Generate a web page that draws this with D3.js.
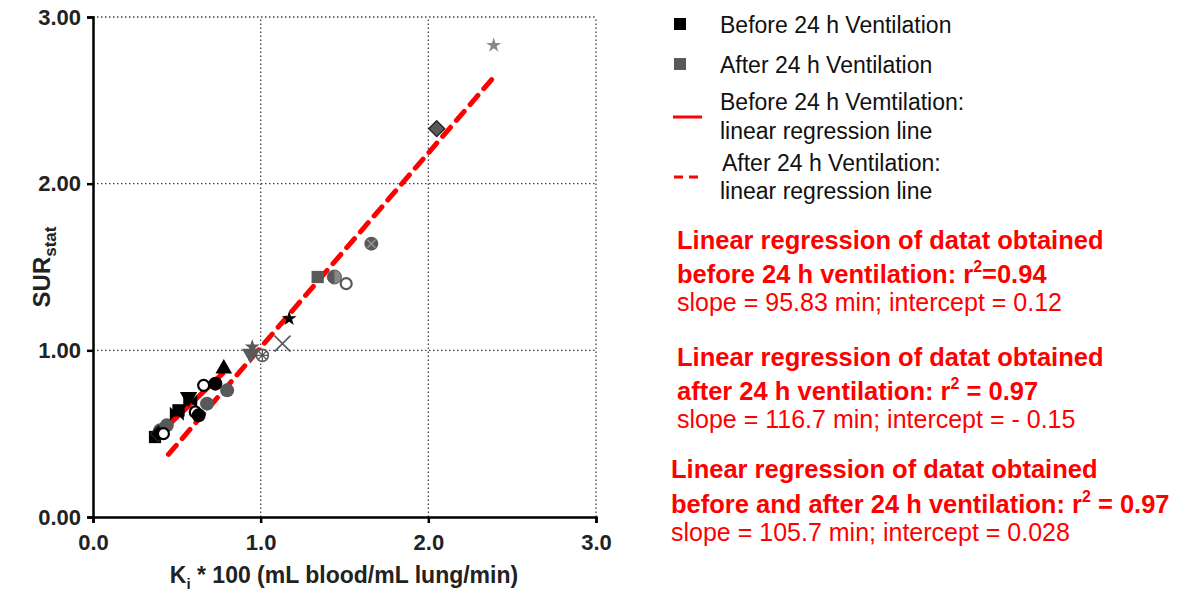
<!DOCTYPE html>
<html><head><meta charset="utf-8">
<script src="https://cdn.jsdelivr.net/npm/d3@7"></script>
<style>body{margin:0;background:#fff;} text{font-family:"Liberation Sans",Arial,sans-serif;}</style>
</head><body>
<svg id="c" width="1180" height="592"></svg>
<script>
// Data (Ki*100, SURstat), shape per subject
const beforeX = [0.37,0.39,0.42,0.50,0.51,0.57,0.58,0.61,0.63,0.66,0.73,0.78,1.17];
const beforeY = [0.48,0.50,0.50,0.62,0.64,0.72,0.69,0.63,0.61,0.79,0.80,0.89,1.19];
const beforeShape = ["square","diamond","openCircle","bowtie","square","triangleDown","bowtie","openCircle","circle","openCircle","circle","triangle","star"];
const afterX = [0.44,0.40,0.68,0.80,0.94,0.95,1.01,1.13,1.34,1.44,1.51,1.66,2.05,2.39];
const afterY = [0.55,0.52,0.68,0.76,0.98,1.02,0.97,1.04,1.44,1.44,1.40,1.64,2.33,2.83];
const afterShape = ["circle","circle","circle","circle","triangleDown","star","flower","x","square","halfCircle","openCircle","circleX","diamond","starLight"];
const xTicks = [0,1,2,3];
const yTicks = [0,1,2,3];
const fitBefore = {slope:0.9583, intercept:0.12, x0:0.37, x1:0.78};
const fitAfter = {slope:1.167, intercept:-0.15, x0:0.45, x1:2.38};
const legendItems = ["Before 24 h Ventilation","After 24 h Ventilation"];

const svg = d3.select("#c");
const x = d3.scaleLinear().domain([0,3]).range([93,596]);
const y = d3.scaleLinear().domain([0,3]).range([517,17]);

// grid
const g = svg.append("g");
g.selectAll(".gx").data(xTicks.slice(1)).join("line")
  .attr("x1",d=>x(d)).attr("x2",d=>x(d)).attr("y1",y(0)).attr("y2",y(3))
  .attr("stroke","#444").attr("stroke-width",1.3).attr("stroke-dasharray","1.5,2.5");
g.selectAll(".gy").data(yTicks.slice(1)).join("line")
  .attr("y1",d=>y(d)).attr("y2",d=>y(d)).attr("x1",x(0)).attr("x2",x(3))
  .attr("stroke","#444").attr("stroke-width",1.3).attr("stroke-dasharray","1.5,2.5");

// axes
const xa = svg.append("g").attr("transform",`translate(0,${y(0)})`)
  .call(d3.axisBottom(x).tickValues(xTicks).tickFormat(d3.format(".1f")).tickSize(6).tickPadding(11));
const ya = svg.append("g").attr("transform",`translate(${x(0)},0)`)
  .call(d3.axisLeft(y).tickValues(yTicks).tickFormat(d3.format(".2f")).tickSize(6).tickPadding(6));
[xa,ya].forEach(a=>{
  a.select(".domain").attr("stroke","#000").attr("stroke-width",2.5);
  a.selectAll(".tick line").attr("stroke","#000").attr("stroke-width",2.5);
  a.selectAll(".tick text").attr("font-size",22).attr("font-weight","bold").attr("fill","#222")
   .style("font-family","Liberation Sans, Arial, sans-serif");
});

// axis titles
const xt = svg.append("text").attr("x",344).attr("y",583).attr("text-anchor","middle")
  .attr("font-size",23).attr("font-weight","bold").attr("fill","#222");
xt.append("tspan").text("K");
xt.append("tspan").text("i").attr("font-size",15).attr("dy",6);
xt.append("tspan").text(" * 100 (mL blood/mL lung/min)").attr("dy",-6);
const yt = svg.append("text").attr("transform","translate(50,267) rotate(-90)").attr("text-anchor","middle")
  .attr("font-size",24).attr("font-weight","bold").attr("fill","#222");
yt.append("tspan").text("SUR");
yt.append("tspan").text("stat").attr("font-size",17).attr("dy",6);

// regression lines
svg.append("line").attr("x1",x(fitBefore.x0)).attr("y1",y(fitBefore.slope*fitBefore.x0+fitBefore.intercept))
  .attr("x2",x(fitBefore.x1)).attr("y2",y(fitBefore.slope*fitBefore.x1+fitBefore.intercept))
  .attr("stroke","#ff0000").attr("stroke-width",5);
svg.append("line").attr("x1",x(fitAfter.x0)).attr("y1",y(fitAfter.slope*fitAfter.x0+fitAfter.intercept))
  .attr("x2",x(fitAfter.x1)).attr("y2",y(fitAfter.slope*fitAfter.x1+fitAfter.intercept))
  .attr("stroke","#ff0000").attr("stroke-width",5).attr("stroke-dasharray","12,9").attr("stroke-linecap","round");

// markers
function drawMarker(sel, shape, color){
  const sym = (t,sz)=>d3.symbol().type(t).size(sz)();
  if(shape==="square") sel.append("path").attr("d",sym(d3.symbolSquare,150)).attr("fill",color);
  else if(shape==="circle") sel.append("circle").attr("r",7).attr("fill",color);
  else if(shape==="openCircle") sel.append("circle").attr("r",5.5).attr("fill","#fff").attr("stroke",color).attr("stroke-width",2.2);
  else if(shape==="triangle") sel.append("path").attr("d",sym(d3.symbolTriangle,120)).attr("fill",color);
  else if(shape==="triangleDown") sel.append("path").attr("d",sym(d3.symbolTriangle,130)).attr("transform","rotate(180)").attr("fill",color);
  else if(shape==="diamond") sel.append("path").attr("d","M0,-8L8,0L0,8L-8,0Z").attr("fill",color).attr("stroke","#222").attr("stroke-width",1.3);
  else if(shape==="star") sel.append("path").attr("d",sym(d3.symbolStar,70)).attr("fill",color);
  else if(shape==="starLight") sel.append("path").attr("d",sym(d3.symbolStar,70)).attr("fill","#888");
  else if(shape==="bowtie") sel.append("path").attr("d","M-7,-7L7,7L7,-7L-7,7Z").attr("fill",color);
  else if(shape==="x") sel.append("path").attr("d","M-8,-8L8,8M8,-8L-8,8").attr("stroke",color).attr("stroke-width",1.6).attr("fill","none");
  else if(shape==="flower"){ sel.append("circle").attr("r",6).attr("fill","#fff").attr("stroke",color).attr("stroke-width",1.6);
    sel.append("path").attr("d","M-6,0L6,0M0,-6L0,6M-4,-4L4,4M4,-4L-4,4").attr("stroke",color).attr("stroke-width",1.3);}
  else if(shape==="halfCircle"){ sel.append("circle").attr("r",7).attr("fill","#888").attr("stroke",color).attr("stroke-width",1);
    sel.append("path").attr("d","M0,-7A7,7 0 0,0 0,7Z").attr("fill",color);}
  else if(shape==="circleX"){ sel.append("circle").attr("r",7).attr("fill",color);
    sel.append("path").attr("d","M-4,-4L4,4M4,-4L-4,4").attr("stroke","#999").attr("stroke-width",1.3);}
}
const afterData = afterX.map((v,i)=>({x:v,y:afterY[i],s:afterShape[i]}));
const beforeData = beforeX.map((v,i)=>({x:v,y:beforeY[i],s:beforeShape[i]}));
svg.append("g").selectAll("g").data(afterData).join("g")
  .attr("transform",d=>`translate(${x(d.x)},${y(d.y)})`).each(function(d){drawMarker(d3.select(this),d.s,"#595959");});
svg.append("g").selectAll("g").data(beforeData).join("g")
  .attr("transform",d=>`translate(${x(d.x)},${y(d.y)})`).each(function(d){drawMarker(d3.select(this),d.s,"#000");});

// legend
const lg = svg.append("g").attr("font-size",23).attr("fill","#111");
lg.append("rect").attr("x",674).attr("y",18).attr("width",12).attr("height",12).attr("fill","#000");
lg.append("text").attr("x",720).attr("y",33).text(legendItems[0]);
lg.append("rect").attr("x",674).attr("y",58).attr("width",12).attr("height",12).attr("fill","#595959");
lg.append("text").attr("x",720).attr("y",73).text(legendItems[1]);
lg.append("line").attr("x1",673).attr("x2",702).attr("y1",117).attr("y2",117).attr("stroke","#ff0000").attr("stroke-width",3);
lg.append("text").attr("x",720).attr("y",110).text("Before 24 h Vemtilation:");
lg.append("text").attr("x",720).attr("y",139).text("linear regression line");
lg.append("line").attr("x1",674).attr("x2",703).attr("y1",177).attr("y2",177).attr("stroke","#ff0000").attr("stroke-width",3).attr("stroke-dasharray","9,6");
lg.append("text").attr("x",722).attr("y",171).text("After 24 h Ventilation:");
lg.append("text").attr("x",720).attr("y",199).text("linear regression line");

// regression annotations
const blocks = [
  {x:677, y:[249,283,311], l1:"Linear regression of datat obtained", l2a:"before 24 h ventilation: r", l2b:"=0.94", l3:"slope = 95.83 min; intercept = 0.12"},
  {x:677, y:[366,400,428], l1:"Linear regression of datat obtained", l2a:"after 24 h ventilation: r", l2b:" = 0.97", l3:"slope = 116.7 min; intercept = - 0.15"},
  {x:671, y:[478,513,541], l1:"Linear regression of datat obtained", l2a:"before and after 24 h ventilation: r", l2b:" = 0.97", l3:"slope = 105.7 min; intercept = 0.028"}
];
blocks.forEach(b=>{
  svg.append("text").attr("x",b.x).attr("y",b.y[0]).attr("font-size",25.5).attr("font-weight","bold").attr("fill","#ff0000").text(b.l1);
  const t = svg.append("text").attr("x",b.x).attr("y",b.y[1]).attr("font-size",25.5).attr("font-weight","bold").attr("fill","#ff0000");
  t.append("tspan").text(b.l2a);
  t.append("tspan").text("2").attr("font-size",16).attr("dy",-11);
  t.append("tspan").text(b.l2b).attr("dy",11);
  svg.append("text").attr("x",b.x).attr("y",b.y[2]).attr("font-size",25).attr("fill","#ff0000").text(b.l3);
});
</script>
</body></html>
